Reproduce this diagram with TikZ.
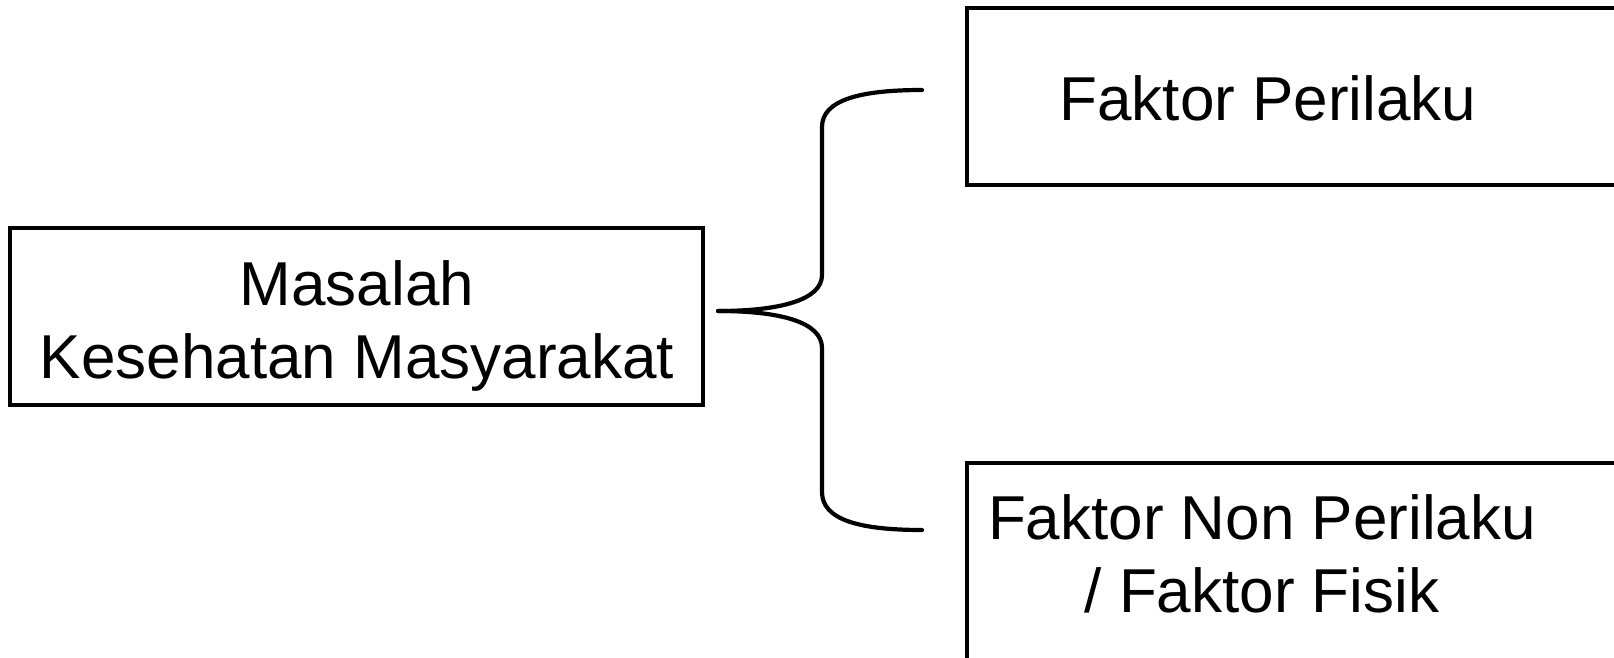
\documentclass[tikz,border=0pt]{standalone}
\usepackage{fontspec}
\setmainfont{Liberation Sans}
\usetikzlibrary{calc}
\begin{document}
\begin{tikzpicture}[x=1pt,y=-1pt,
  box/.style={draw=black,line width=3.6pt,minimum width=#1,inner sep=0pt,outer sep=0pt},
  lbl/.style={anchor=base,align=center,inner sep=0pt,font=\fontsize{62}{73}\selectfont},
  brace/.style={draw=black,line width=4.2pt,line cap=round,line join=round}]
\useasboundingbox (0,0) rectangle (1614,658);
\clip (0,0) rectangle (1614,658);
% boxes
\node[box=693pt,minimum height=177pt] (ms) at (356.5,316.5) {};
\node[box=733pt,minimum height=177pt] (fp) at (1333.5,96.5) {};
\node[box=733pt,minimum height=297pt] (fnp) at (1333.5,611.5) {};
% texts
\node[lbl] (mst) at (357,378) {Masalah\\Kesehatan Masyarakat};
\node[lbl] (fpt) at (1268,121) {Faktor Perilaku};
\node[lbl] (fnpt) at (1262,612) {Faktor Non Perilaku\\/ Faktor Fisik};
% brace
\coordinate (tip) at ($(ms.east)+(15,-5.5)$);
\coordinate (top) at (922,90);
\coordinate (bot) at (922,530);
\draw[brace] (top) .. controls (860,90) and (822,100) .. (822,127)
  -- (822,275) .. controls (822,300) and (780,311) .. (tip);
\draw[brace] (tip) .. controls (780,311) and (822,322) .. (822,348)
  -- (822,492) .. controls (822,520) and (860,530) .. (bot);
\end{tikzpicture}
\end{document}
